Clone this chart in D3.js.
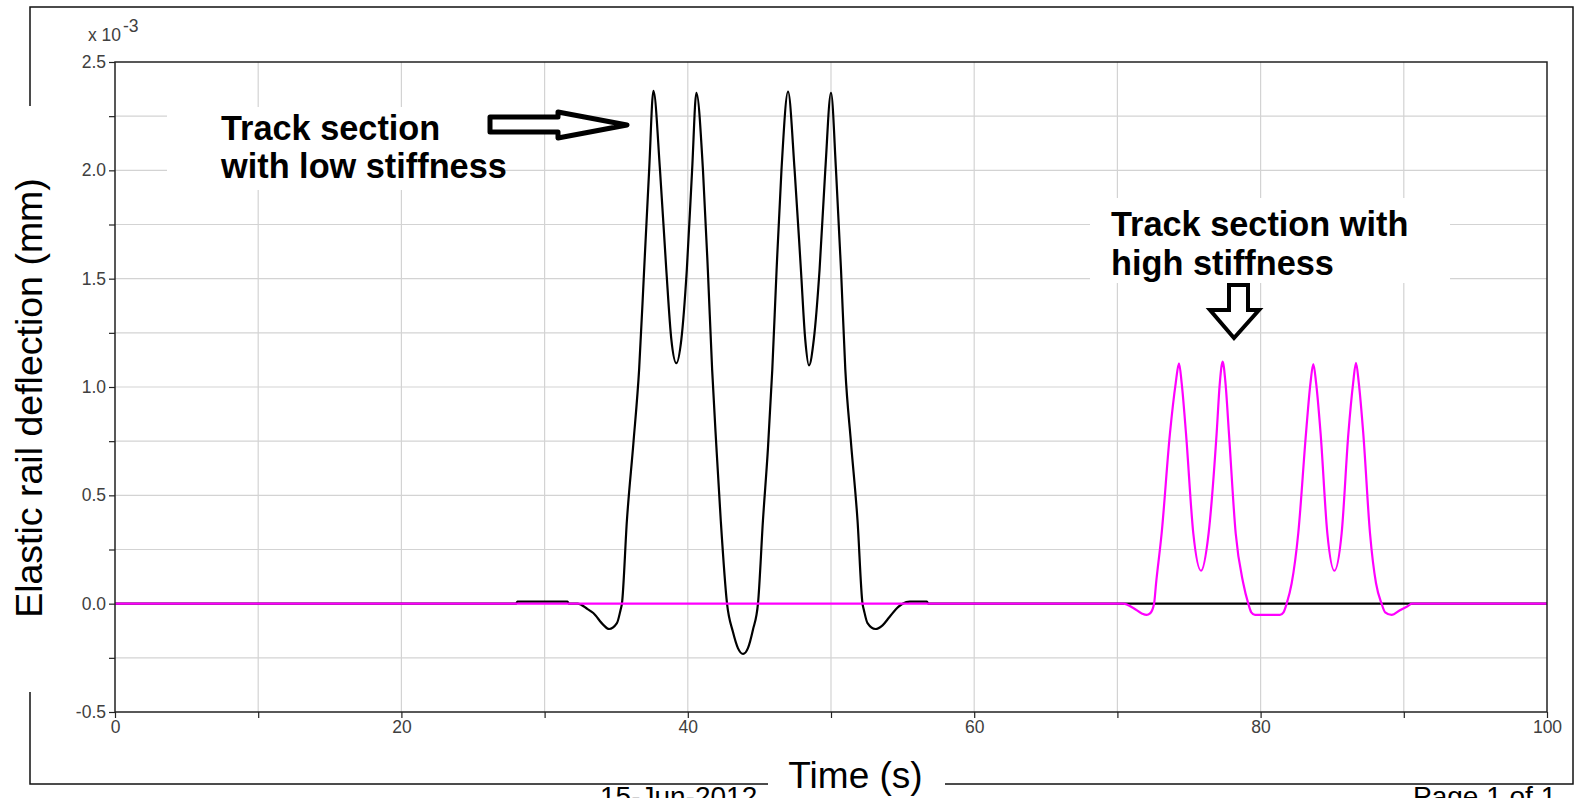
<!DOCTYPE html>
<html>
<head>
<meta charset="utf-8">
<script src="https://cdn.jsdelivr.net/npm/d3@7"></script>
<style>
  body { margin: 0; background: #fff; }
  svg { display: block; }
  text { font-family: "Liberation Sans", Arial, Helvetica, sans-serif; }
</style>
</head>
<body>
<svg id="chart" width="1581" height="798"></svg>
<script>
// Rail deflection under a passing train (values in units of 1e-3 mm)
// Low-stiffness track section (black trace)
const timeLow = [0, 28.0, 28.1, 31.6, 31.7, 32.3, 33.0, 33.4, 34.1, 34.5, 35.05, 35.3, 35.4,
  35.75, 36.2, 36.6, 36.95, 37.3, 37.6, 38.06, 38.5, 38.85, 39.2, 39.55, 39.93, 40.3, 40.6,
  41.06, 41.4, 41.7, 42.0, 42.3, 42.74, 43.15, 43.5, 43.86, 44.2, 44.55, 44.9, 45.25, 45.6,
  45.9, 46.2, 46.54, 47.0, 47.46, 47.9, 48.2, 48.46, 48.8, 49.2, 49.6, 50.0, 50.35, 50.7,
  51.0, 51.4, 51.85, 52.2, 52.3, 52.55, 53.1, 53.6, 54.1, 54.7, 55.0, 55.5, 56.7, 56.8, 100];
const defLow = [0, 0, 0.009, 0.009, 0, 0, -0.025, -0.043, -0.098, -0.117, -0.09, -0.03, 0,
  0.386, 0.74, 1.08, 1.54, 2.0, 2.367, 2.0, 1.54, 1.22, 1.11, 1.22, 1.54, 2.0, 2.358,
  2.0, 1.54, 1.08, 0.72, 0.386, 0, -0.13, -0.205, -0.232, -0.205, -0.12, 0, 0.386, 0.72,
  1.08, 1.54, 2.0, 2.363, 2.0, 1.54, 1.22, 1.10, 1.22, 1.54, 2.0, 2.358, 2.0, 1.54,
  1.08, 0.74, 0.386, 0, -0.03, -0.09, -0.117, -0.1, -0.06, -0.015, 0, 0.009, 0.009, 0, 0];

// High-stiffness track section (magenta trace)
const timeHigh = [0, 70.41, 71.11, 71.7, 72.04, 72.28, 72.56, 72.7, 73.09, 73.67, 74.07, 74.3,
  74.49, 74.79, 75.3, 75.84, 76.37, 76.93, 77.15, 77.35, 77.55, 77.79, 78.26,
  78.79, 79.14, 79.35, 79.61, 81.35, 81.6, 81.82, 82.17, 82.63, 83.17, 83.48, 83.68, 83.88,
  84.19, 84.66, 85.15, 85.66, 86.13, 86.46, 86.66, 86.86, 87.17, 87.64, 88.06,
  88.45, 88.7, 89.15, 89.73, 90.31, 90.55, 100];
const defHigh = [0, 0, -0.02, -0.045, -0.052, -0.045, 0, 0.094, 0.325, 0.786, 1.017, 1.109,
  1.017, 0.786, 0.325, 0.152, 0.325, 0.786, 1.017, 1.117, 1.017, 0.786, 0.325,
  0.094, 0, -0.04, -0.052, -0.052, -0.04, 0, 0.094, 0.325, 0.786, 1.017, 1.106, 1.017,
  0.786, 0.325, 0.152, 0.325, 0.786, 1.017, 1.112, 1.017, 0.786, 0.325, 0.094,
  0, -0.04, -0.052, -0.03, -0.01, 0, 0];

// Axis ticks and labels
const xTicks = [0, 10, 20, 30, 40, 50, 60, 70, 80, 90, 100];
const xTickLabels = ["0", "", "20", "", "40", "", "60", "", "80", "", "100"];
const yTicks = [-0.5, -0.25, 0, 0.25, 0.5, 0.75, 1.0, 1.25, 1.5, 1.75, 2.0, 2.25, 2.5];
const yTickLabels = ["-0.5", "", "0.0", "", "0.5", "", "1.0", "", "1.5", "", "2.0", "", "2.5"];

const xTitle = "Time (s)";
const yTitle = "Elastic rail deflection (mm)";
const noteLow = ["Track section", "with low stiffness"];
const noteHigh = ["Track section with", "high stiffness"];
const printDate = "15-Jun-2012";
const pageLabel = "Page 1 of 1";

const svg = d3.select("#chart");
const plot = { left: 115, right: 1547, top: 62, bottom: 712 };

const x = d3.scaleLinear().domain([0, 100]).range([plot.left, plot.right]);
const y = d3.scaleLinear().domain([-0.5, 2.5]).range([plot.bottom, plot.top]);

// Outer page frame
svg.append("rect")
  .attr("x", 30).attr("y", 7).attr("width", 1543).attr("height", 777)
  .attr("fill", "none").attr("stroke", "#111").attr("stroke-width", 1.5);

// Background patches behind the outer titles
svg.append("rect").attr("x", 4).attr("y", 106).attr("width", 52).attr("height", 586).attr("fill", "#fff");
svg.append("rect").attr("x", 768).attr("y", 770).attr("width", 177).attr("height", 28).attr("fill", "#fff");

// Plot background
svg.append("rect")
  .attr("x", plot.left).attr("y", plot.top)
  .attr("width", plot.right - plot.left).attr("height", plot.bottom - plot.top)
  .attr("fill", "#fff");

// Grid
const grid = svg.append("g").attr("stroke", "#d3d3d3").attr("stroke-width", 1.2);
grid.selectAll("line.v").data(xTicks.slice(1, -1)).join("line")
  .attr("x1", d => x(d)).attr("x2", d => x(d))
  .attr("y1", plot.top).attr("y2", plot.bottom);
grid.selectAll("line.h").data(yTicks.slice(1, -1)).join("line")
  .attr("x1", plot.left).attr("x2", plot.right)
  .attr("y1", d => y(d)).attr("y2", d => y(d));

// Series
svg.append("clipPath").attr("id", "clip").append("rect")
  .attr("x", plot.left).attr("y", plot.top)
  .attr("width", plot.right - plot.left).attr("height", plot.bottom - plot.top);

const line = d3.line().x(d => x(d[0])).y(d => y(d[1])).curve(d3.curveMonotoneX);
const lowPts = timeLow.map((t, i) => [t, defLow[i]]);
const highPts = timeHigh.map((t, i) => [t, defHigh[i]]);

const series = svg.append("g").attr("clip-path", "url(#clip)");
series.append("path").datum(lowPts).attr("d", line)
  .attr("fill", "none").attr("stroke", "#000").attr("stroke-width", 2.2)
  .attr("stroke-linejoin", "round");
series.append("path").datum(highPts).attr("d", line)
  .attr("fill", "none").attr("stroke", "#ff00ff").attr("stroke-width", 2.2)
  .attr("stroke-linejoin", "round");

// Axes
const xAxis = d3.axisBottom(x).tickValues(xTicks)
  .tickFormat((d, i) => xTickLabels[i]).tickSize(6).tickPadding(3);
const yAxis = d3.axisLeft(y).tickValues(yTicks)
  .tickFormat((d, i) => yTickLabels[i]).tickSize(6).tickPadding(3);

const gx = svg.append("g").attr("transform", `translate(0,${plot.bottom})`).call(xAxis);
const gy = svg.append("g").attr("transform", `translate(${plot.left},0)`).call(yAxis);
[gx, gy].forEach(g => {
  g.select(".domain").remove();
  g.selectAll(".tick line").attr("stroke", "#222").attr("stroke-width", 1.2);
  g.selectAll(".tick text").attr("fill", "#404040").attr("font-size", 17.5)
    .attr("font-family", "'Liberation Sans', Arial, sans-serif");
});

// Plot box
svg.append("rect")
  .attr("x", plot.left).attr("y", plot.top)
  .attr("width", plot.right - plot.left).attr("height", plot.bottom - plot.top)
  .attr("fill", "none").attr("stroke", "#222").attr("stroke-width", 1.5);

// Exponent label
const ex = svg.append("text").attr("x", 88).attr("y", 41).attr("font-size", 17.5).attr("fill", "#404040");
ex.append("tspan").text("x 10");
ex.append("tspan").attr("x", 123).attr("y", 32).text("-3");

// Axis titles
svg.append("text").attr("x", (788 + 923) / 2).attr("y", 788)
  .attr("text-anchor", "middle").attr("font-size", 37).attr("fill", "#000").text(xTitle);
svg.append("text")
  .attr("transform", "translate(42,398) rotate(-90)")
  .attr("text-anchor", "middle").attr("font-size", 37.5).attr("fill", "#000").text(yTitle);

// Footer (runs past the bottom page edge)
svg.append("text").attr("x", 600).attr("y", 806).attr("font-size", 28).attr("fill", "#000").text(printDate);
svg.append("text").attr("x", 1413).attr("y", 806).attr("font-size", 28).attr("fill", "#000").text(pageLabel);

// Annotation: low stiffness
svg.append("rect").attr("x", 167).attr("y", 107).attr("width", 338).attr("height", 83).attr("fill", "#fff");
const t1 = svg.append("text").attr("font-size", 34.3).attr("font-weight", "bold").attr("fill", "#000");
noteLow.forEach((s, i) => t1.append("tspan").attr("x", 221).attr("y", 140 + i * 38).text(s));
svg.append("path")
  .attr("d", "M490,117 L558,117 L558,112 L627,125 L558,138 L558,132 L490,132 Z")
  .attr("fill", "#fff").attr("stroke", "#000").attr("stroke-width", 5).attr("stroke-linejoin", "round");

// Annotation: high stiffness
svg.append("rect").attr("x", 1090).attr("y", 198).attr("width", 360).attr("height", 85).attr("fill", "#fff");
const t2 = svg.append("text").attr("font-size", 34.3).attr("font-weight", "bold").attr("fill", "#000");
noteHigh.forEach((s, i) => t2.append("tspan").attr("x", 1111).attr("y", 236 + i * 39).text(s));
svg.append("path")
  .attr("d", "M1229,285 L1248,285 L1248,310 L1259,310 L1234,338 L1210,310 L1229,310 Z")
  .attr("fill", "#fff").attr("stroke", "#000").attr("stroke-width", 4).attr("stroke-linejoin", "miter");
</script>
</body>
</html>
